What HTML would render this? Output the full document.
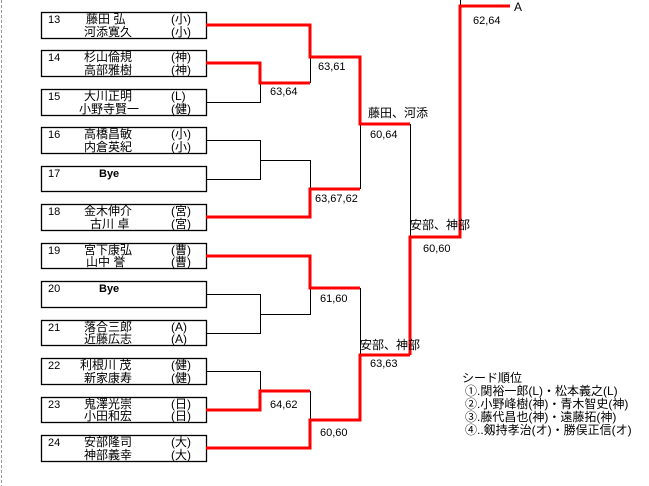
<!DOCTYPE html>
<html><head><meta charset="utf-8"><style>
html,body{margin:0;padding:0;background:#fff;width:649px;height:486px;overflow:hidden}
svg{display:block}
text{font-family:"Liberation Sans","Noto Sans CJK JP",sans-serif;font-size:11px;fill:#000}
.n{font-size:12px}
</style></head><body>
<svg width="649" height="486" xmlns="http://www.w3.org/2000/svg">
<line x1="1.5" y1="0" x2="1.5" y2="486" stroke="#999" stroke-dasharray="3,2"/>
<g fill="none" stroke="#000" stroke-width="1.3">
<rect x="41.5" y="12.5" width="165" height="26"/>
<rect x="41.5" y="50.5" width="165" height="26"/>
<rect x="41.5" y="89.5" width="165" height="26"/>
<rect x="41.5" y="127.5" width="165" height="26"/>
<rect x="41.5" y="166.5" width="165" height="25"/>
<rect x="41.5" y="204.5" width="165" height="26"/>
<rect x="41.5" y="243.5" width="165" height="25"/>
<rect x="41.5" y="281.5" width="165" height="26"/>
<rect x="41.5" y="320.5" width="165" height="25"/>
<rect x="41.5" y="358.5" width="165" height="26"/>
<rect x="41.5" y="397.5" width="165" height="25"/>
<rect x="41.5" y="435.5" width="165" height="26"/>
</g>
<g fill="none" stroke="#000" stroke-width="1">
<polyline points="206,102.5 260.5,102.5 260.5,83"/>
<line x1="310.5" y1="57" x2="310.5" y2="83"/>
<polyline points="206,140.5 260.5,140.5 260.5,179.5 206,179.5"/>
<polyline points="260,160.5 310.5,160.5 310.5,189"/>
<line x1="360.5" y1="124" x2="360.5" y2="189"/>
<line x1="410.5" y1="124" x2="410.5" y2="237"/>
<line x1="460.5" y1="0" x2="460.5" y2="6"/>
<polyline points="206,294.5 260.5,294.5 260.5,333.5 206,333.5"/>
<polyline points="260,314.5 310.5,314.5 310.5,288"/>
<line x1="360.5" y1="288" x2="360.5" y2="355"/>
<polyline points="206,371.5 260.5,371.5 260.5,391"/>
<line x1="310.5" y1="391" x2="310.5" y2="420"/>
</g>
<g fill="none" stroke="#f00" stroke-width="3">
<polyline points="206,25 310,25 310,57 360,57 360,124 410,124"/>
<polyline points="206,63 260,63 260,83 310,83"/>
<polyline points="206,217 310,217 310,189 360,189"/>
<polyline points="410,124 410,124"/>
<polyline points="410,355 410,237 460,237 460,6 510,6"/>
<polyline points="206,256 310,256 310,288 360,288"/>
<polyline points="206,410 260,410 260,391 310,391"/>
<polyline points="206,448 310,448 310,420 360,420 360,355 410,355"/>
</g>
<g>
<text x="48" y="23">13</text><text class="n" x="86" y="23">藤田 弘</text><text class="n" x="171" y="23">(小)</text>
<text class="n" x="84" y="36">河添寛久</text><text class="n" x="171" y="36">(小)</text>
<text x="48" y="61">14</text><text class="n" x="84" y="61">杉山倫規</text><text class="n" x="171" y="61">(神)</text>
<text class="n" x="84" y="74">高部雅樹</text><text class="n" x="171" y="74">(神)</text>
<text x="48" y="100">15</text><text class="n" x="84" y="100">大川正明</text><text class="n" x="171" y="100">(L)</text>
<text class="n" x="79" y="113">小野寺賢一</text><text class="n" x="171" y="113">(健)</text>
<text x="48" y="138">16</text><text class="n" x="84" y="138">高橋昌敏</text><text class="n" x="171" y="138">(小)</text>
<text class="n" x="84" y="151">内倉英紀</text><text class="n" x="171" y="151">(小)</text>
<text x="48" y="177">17</text><text x="99" y="177" font-weight="bold">Bye</text>
<text x="48" y="215">18</text><text class="n" x="84" y="215">金木伸介</text><text class="n" x="171" y="215">(宮)</text>
<text class="n" x="90" y="228">古川 卓</text><text class="n" x="171" y="228">(宮)</text>
<text x="48" y="254">19</text><text class="n" x="84" y="254">宮下康弘</text><text class="n" x="171" y="254">(曹)</text>
<text class="n" x="86" y="266">山中 誉</text><text class="n" x="171" y="266">(曹)</text>
<text x="48" y="292">20</text><text x="99" y="292" font-weight="bold">Bye</text>
<text x="48" y="331">21</text><text class="n" x="84" y="331">落合三郎</text><text class="n" x="171" y="331">(A)</text>
<text class="n" x="84" y="343">近藤広志</text><text class="n" x="171" y="343">(A)</text>
<text x="48" y="369">22</text><text class="n" x="80" y="369">利根川 茂</text><text class="n" x="171" y="369">(健)</text>
<text class="n" x="84" y="382">新家康寿</text><text class="n" x="171" y="382">(健)</text>
<text x="48" y="408">23</text><text class="n" x="84" y="408">鬼澤光崇</text><text class="n" x="171" y="408">(日)</text>
<text class="n" x="84" y="420">小田和宏</text><text class="n" x="171" y="420">(日)</text>
<text x="48" y="446">24</text><text class="n" x="84" y="446">安部隆司</text><text class="n" x="171" y="446">(大)</text>
<text class="n" x="84" y="459">神部義幸</text><text class="n" x="171" y="459">(大)</text>
</g>
<g>
<text x="270" y="95">63,64</text>
<text x="318" y="70">63,61</text>
<text x="315" y="202">63,67,62</text>
<text class="n" x="368" y="117">藤田、河添</text>
<text x="370" y="138">60,64</text>
<text class="n" x="410" y="229">安部、神部</text>
<text x="423" y="252">60,60</text>
<text x="473" y="24">62,64</text>
<text class="n" x="514" y="11">A</text>
<text x="320" y="302">61,60</text>
<text x="270" y="408">64,62</text>
<text x="320" y="436">60,60</text>
<text class="n" x="360" y="349">安部、神部</text>
<text x="370" y="367">63,63</text>
<text class="n" x="462" y="382">シード順位</text>
<text class="n" x="465" y="395">①.関裕一郎(L)・松本義之(L)</text>
<text class="n" x="465" y="408">②.小野峰樹(神)・青木智史(神)</text>
<text class="n" x="465" y="421">③.藤代昌也(神)・遠藤拓(神)</text>
<text class="n" x="465" y="434">④..剱持孝治(オ)・勝俣正信(オ)</text>
</g>
</svg>
</body></html>
